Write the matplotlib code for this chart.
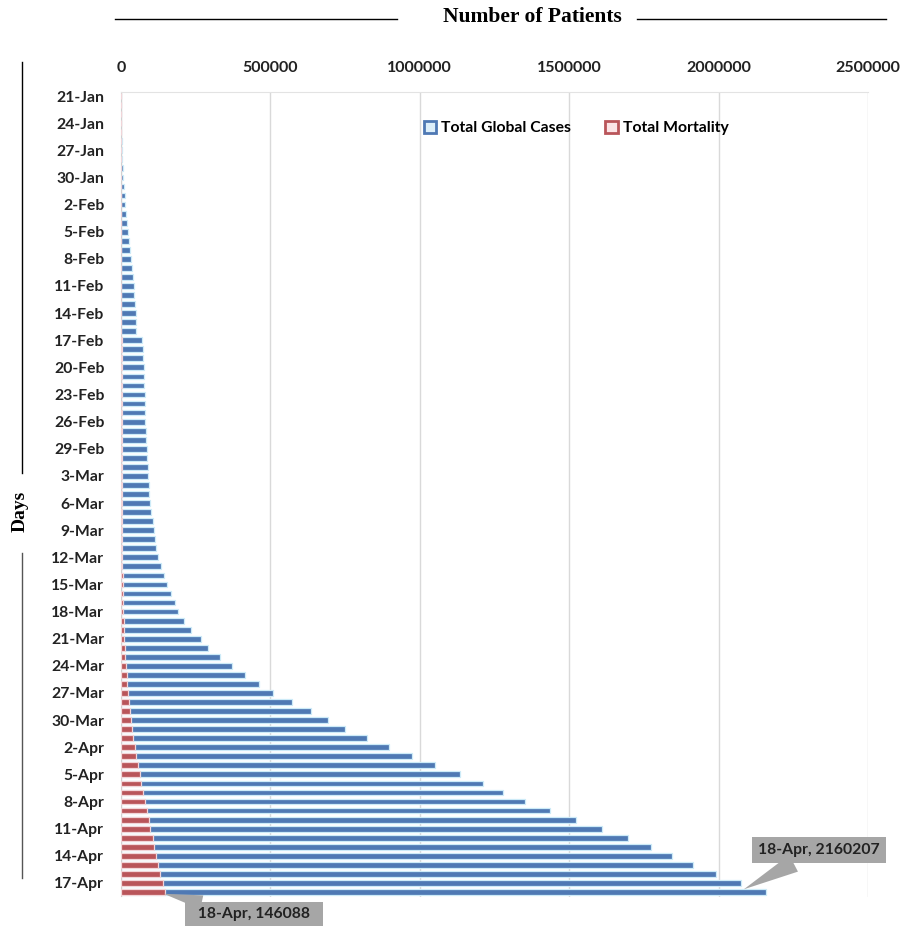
import matplotlib
matplotlib.use("Agg")
import matplotlib.pyplot as plt
from matplotlib.patches import Rectangle
from matplotlib.lines import Line2D
import pandas as pd

dates = pd.date_range("2020-01-21", "2020-04-18", freq="D")
day_labels = [f"{d.day}-{d.strftime('%b')}" for d in dates]

total_cases = [
    282, 314, 581, 846, 1320, 2014, 2798, 4593, 6065, 7818,
    9826, 11953, 14557, 17391, 20630, 24554, 28276, 31481, 34886, 37558,
    40554, 43103, 45171, 46997, 49053, 50580, 51857, 71429, 73332, 75204,
    75748, 76769, 77794, 78811, 79331, 80239, 81109, 82294, 83652, 85403,
    87137, 88948, 90870, 93090, 95324, 98192, 101927, 105586, 109577, 113702,
    118319, 125260, 132758, 145334, 153517, 167515, 179111, 191127, 209839, 234073,
    266073, 292142, 332930, 372757, 414179, 462684, 509164, 571678, 634835, 693224,
    750890, 823626, 896450, 972303, 1051635, 1133758, 1210956, 1279722, 1353361, 1436198,
    1521252, 1610909, 1696588, 1773084, 1844863, 1914916, 1991562, 2074529, 2160207,
]
total_deaths = [
    6, 6, 17, 25, 41, 56, 80, 106, 132, 170,
    213, 259, 305, 362, 426, 492, 565, 638, 724, 813,
    910, 1018, 1115, 1261, 1383, 1526, 1669, 1775, 1873, 2009,
    2129, 2247, 2359, 2462, 2618, 2701, 2770, 2804, 2858, 2924,
    2977, 3043, 3112, 3198, 3281, 3380, 3486, 3584, 3809, 4012,
    4292, 4615, 4955, 5416, 5735, 6606, 7426, 7807, 8778, 9840,
    11184, 12784, 14510, 16231, 18440, 21031, 23335, 26494, 30105, 33106,
    36405, 40598, 45526, 50325, 56985, 62784, 67594, 72614, 79235, 85521,
    92798, 97311, 105952, 111652, 117021, 123010, 130885, 139378, 146088,
]
x_ticks = [0, 500000, 1000000, 1500000, 2000000, 2500000]

BLUE = "#4F79B4"
RED = "#B9555A"
W, H = 912, 927
fig = plt.figure(figsize=(W / 100, H / 100), dpi=100)
fig.patch.set_facecolor("white")

ax = fig.add_axes([121 / W, 1 - 896.5 / H, (868 - 121) / W, (896.5 - 91.5) / H])
y = list(range(len(day_labels)))
ax.barh(y, total_cases, height=0.64, color=BLUE, edgecolor="#CDEBF8", linewidth=0.9, zorder=2)
ax.barh(y, total_deaths, height=0.64, color=RED, edgecolor="#F2D5D8", linewidth=0.9, zorder=3)

ax.set_xlim(0, 2500000)
ax.set_ylim(len(day_labels) - 0.5, -0.5)
ax.xaxis.tick_top()
ax.set_xticks(x_ticks)
ax.set_xticklabels([str(v) for v in x_ticks], family="Lato", fontweight="bold",
                   fontsize=11.5, color="#222222")
ax.set_yticks(y[::3])
ax.set_yticklabels(day_labels[::3], family="Lato", fontweight="bold",
                   fontsize=11.3, color="#222222")
ax.tick_params(axis="both", length=0)
ax.tick_params(axis="x", pad=12)
ax.tick_params(axis="y", pad=12)
ax.grid(axis="x", color="#D9D9D9", linewidth=1, zorder=0)
ax.set_axisbelow(True)
for s in ["right", "bottom"]:
    ax.spines[s].set_visible(False)
ax.spines["top"].set_color("#E3E3E3")
ax.spines["left"].set_color("#D0D0D0")

# Legend
handles = [
    Rectangle((0, 0), 1, 1, facecolor="#DDEFFA", edgecolor=BLUE, linewidth=2),
    Rectangle((0, 0), 1, 1, facecolor="#FBE4E6", edgecolor=RED, linewidth=2),
]
leg = ax.legend(handles, ["Total Global Cases", "Total Mortality"], ncol=2,
                loc="center", bbox_to_anchor=((576 - 121) / (868 - 121), 1 - (128 - 91.5) / (896.5 - 91.5)),
                frameon=False, prop={"family": "Lato", "weight": "bold", "size": 11.3},
                handlelength=0.8, handleheight=0.8, handletextpad=0.3, columnspacing=2.2)

# Title with side lines
fig.text(532 / W, 1 - 17 / H, "Number of Patients", ha="center", va="center",
         family="Liberation Serif", fontweight="bold", fontsize=15.5)
fig.add_artist(Line2D([115 / W, 397 / W], [1 - 19 / H, 1 - 19 / H], color="black", linewidth=1))
fig.add_artist(Line2D([637 / W, 886 / W], [1 - 19 / H, 1 - 19 / H], color="black", linewidth=1))

# Days label with side lines
fig.text(20 / W, 1 - 511 / H, "Days", ha="center", va="center", rotation=90,
         family="Liberation Serif", fontweight="bold", fontsize=14)
fig.add_artist(Line2D([22 / W, 22 / W], [1 - 62 / H, 1 - 473 / H], color="black", linewidth=1))
fig.add_artist(Line2D([22 / W, 22 / W], [1 - 553 / H, 1 - 878 / H], color="#555555", linewidth=1))

# Callouts
last = len(day_labels) - 1
ax.annotate(f"{day_labels[last]}, {total_cases[last]}", xy=(total_cases[last] * 0.965, last - 0.3),
            xytext=(819, H - 850), textcoords="figure pixels", ha="center", va="center",
            family="Lato", fontweight="bold", fontsize=11.3, color="#222222",
            bbox=dict(boxstyle="square,pad=0.4", fc="#A6A6A6", ec="none"),
            arrowprops=dict(arrowstyle="wedge,tail_width=1.2", fc="#A6A6A6", ec="none",
                            shrinkA=0, shrinkB=0),
            annotation_clip=False, zorder=5)
ax.annotate(f"  {day_labels[last]}, {total_deaths[last]}  ", xy=(total_deaths[last] * 0.98, last + 0.2),
            xytext=(254, H - 914), textcoords="figure pixels", ha="center", va="center",
            family="Lato", fontweight="bold", fontsize=11.3, color="#222222",
            bbox=dict(boxstyle="square,pad=0.3", fc="#A6A6A6", ec="none"),
            arrowprops=dict(arrowstyle="wedge,tail_width=0.9", fc="#A6A6A6", ec="none",
                            shrinkA=0, shrinkB=0),
            annotation_clip=False, zorder=5)

fig.savefig("out.png", dpi=100)
